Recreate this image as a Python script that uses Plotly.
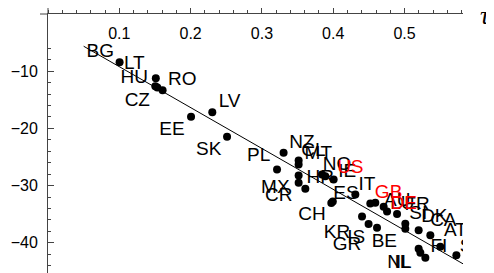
import plotly.graph_objects as go

# ---------------- data ----------------
countries = ["BG", "LT", "HU", "CZ", "RO", "EE", "LV", "SK", "PL", "NZ",
             "CL", "MT", "MX", "CR", "HR", "NO", "IE", "US", "ES", "CH",
             "IT", "GB", "AU", "LU", "DE", "FR", "SI", "BE", "DK", "CA",
             "AT", "NL", "IL", "FI", "SE", "KR", "IS", "GR"]
tau = [0.1004, 0.1512, 0.1505, 0.1533, 0.1607, 0.2006, 0.2304, 0.2511, 0.3212, 0.3304,
       0.3515, 0.3515, 0.3515, 0.3515, 0.3609, 0.3843, 0.3889, 0.4006, 0.3994, 0.3973,
       0.4310, 0.4520, 0.4590, 0.4707, 0.4755, 0.4895, 0.5011, 0.5011, 0.5198, 0.5362,
       0.5502, 0.5198, 0.5222, 0.5292, 0.5727, 0.4404, 0.4496, 0.4614]
values = [-8.43, -11.22, -12.62, -12.85, -13.32, -17.97, -17.17, -21.47, -27.19, -24.27,
          -25.61, -26.31, -28.23, -29.51, -30.56, -28.06, -28.36, -28.93, -32.78, -33.04,
          -31.56, -33.13, -33.01, -33.71, -34.53, -34.97, -36.68, -37.55, -37.80, -38.67,
          -40.70, -41.05, -41.75, -42.62, -42.17, -35.40, -36.71, -37.38]
highlighted = ["US", "GB", "DE"]

x_tick_values = [0.1, 0.2, 0.3, 0.4, 0.5]
x_tick_labels = ["0.1", "0.2", "0.3", "0.4", "0.5"]
y_tick_values = [-10, -20, -30, -40]
y_tick_labels = ["\u221210", "\u221220", "\u221230", "\u221240"]

fit_intercept = -2.06
fit_slope = -71.5
fit_x = [0.05, 0.60]

# ---------------- style ----------------
# label text-centre offsets from the point, in pixels (dx right, dy down)
LABEL_OFFSETS = {
    "BG": (-19.3, -12.2), "LT": (-21.5, -15.7), "HU": (-21, -9.7), "CZ": (-20, 12),
    "RO": (19.7, -11.7), "EE": (-19, 11), "LV": (17.3, -12), "SK": (-18.4, 11),
    "PL": (-18.4, -15), "NZ": (18.4, -11.6), "CL": (14.7, -11), "MT": (19.7, -12),
    "MX": (-23.3, 10.7), "CR": (-20, 11.7), "HR": (15, -12.6), "NO": (15, -11.7),
    "IE": (22, -5.7), "US": (16.7, -13.3), "ES": (13.2, -9.7), "CH": (-19.3, 9.8),
    "IT": (11.7, -11.7), "GB": (18.3, -12.3), "AU": (22, -3.3), "LU": (18.7, -4.3),
    "DE": (16.6, -9.3), "FR": (20, -10.5), "SI": (13, -11.3), "BE": (-21, 11.7),
    "DK": (15.7, -14.7), "CA": (13, -15.7), "AT": (15, -17.3), "NL": (-19.3, 12.7),
    "IL": (-18, 8.7), "FI": (13.5, -12.8), "SE": (16, -9.7), "KR": (-25, 14.7),
    "IS": (-12.3, 12.5), "GR": (-30, 15),
}
LABEL_BASE_DY = 2  # plotly centres the text box slightly above the cap centre

# the page body adds an 8 px offset, so the figure is 8 px smaller than the window
W, H = 486, 265
MARGIN = dict(l=40, r=31, t=6, b=0)
X_RANGE = [0, 0.582]
Y_RANGE = [-45.28, 0]
plot_w = W - MARGIN["l"] - MARGIN["r"]
plot_h = H - MARGIN["t"] - MARGIN["b"]
px_per_x = plot_w / (X_RANGE[1] - X_RANGE[0])
px_per_y = plot_h / (Y_RANGE[1] - Y_RANGE[0])

AXIS_COLOR = "#444444"
SANS = "Liberation Sans, Arial, sans-serif"

fig = go.Figure()

# regression line
fig.add_trace(go.Scatter(
    x=fit_x, y=[fit_intercept + fit_slope * v for v in fit_x],
    mode="lines", line=dict(color="black", width=1), hoverinfo="skip",
    showlegend=False, cliponaxis=True))

# points
fig.add_trace(go.Scatter(
    x=tau, y=values, mode="markers",
    marker=dict(color="black", size=8, line=dict(width=0)),
    showlegend=False, cliponaxis=True))

# labels
def label_trace(names, color):
    xs, ys, ts = [], [], []
    for c, xv, yv in zip(countries, tau, values):
        if c not in names:
            continue
        dx, dy = LABEL_OFFSETS[c]
        xs.append(xv + dx / px_per_x)
        ys.append(yv - (dy + LABEL_BASE_DY) / px_per_y)
        ts.append(c)
    return go.Scatter(x=xs, y=ys, text=ts, mode="text", textposition="middle center",
                      textfont=dict(family=SANS, size=19, color=color),
                      showlegend=False, cliponaxis=True, hoverinfo="skip")

fig.add_trace(label_trace([c for c in countries if c not in highlighted], "black"))
fig.add_trace(label_trace(highlighted, "#ff0000"))

fig.update_layout(
    width=W, height=H, margin=MARGIN,
    paper_bgcolor="white", plot_bgcolor="white",
    showlegend=False,
    xaxis=dict(
        range=X_RANGE, side="top", showgrid=False, zeroline=False, automargin=False,
        showline=True, linecolor=AXIS_COLOR, linewidth=1,
        tickvals=x_tick_values, ticktext=x_tick_labels,
        ticks="outside", ticklen=6, tickcolor=AXIS_COLOR, tickwidth=1,
        ticklabelposition="inside", ticklabelstandoff=14,
        tickfont=dict(family=SANS, size=16, color="black"),
        minor=dict(dtick=0.02, tick0=0, ticks="outside", ticklen=3,
                   tickcolor=AXIS_COLOR, showgrid=False),
    ),
    yaxis=dict(
        range=Y_RANGE, showgrid=False, zeroline=False, automargin=False,
        showline=True, linecolor=AXIS_COLOR, linewidth=1,
        tickvals=y_tick_values, ticktext=y_tick_labels,
        ticks="inside", ticklen=6, tickcolor=AXIS_COLOR, tickwidth=1,
        ticklabelstandoff=6,
        tickfont=dict(family=SANS, size=16, color="black"),
        minor=dict(dtick=2, tick0=0, ticks="inside", ticklen=3,
                   tickcolor=AXIS_COLOR, showgrid=False),
    ),
    shapes=[
        # small extensions of the axes beyond the origin
        dict(type="line", xref="paper", yref="paper", x0=-8 / plot_w, x1=0, y0=1, y1=1,
             line=dict(color=AXIS_COLOR, width=1)),
        dict(type="line", xref="paper", yref="paper", x0=0, x1=0, y0=1, y1=1 + 6 / plot_h,
             line=dict(color=AXIS_COLOR, width=1)),
    ],
    annotations=[
        dict(text="\u03c4", xref="paper", yref="paper", x=1 + 22 / plot_w, y=1 - 2 / plot_h,
             xanchor="center", yanchor="middle", showarrow=False,
             font=dict(family="Liberation Serif, Times New Roman, serif", size=26,
                       color="black", style="italic")),
    ],
)

fig.write_html("out.html")
